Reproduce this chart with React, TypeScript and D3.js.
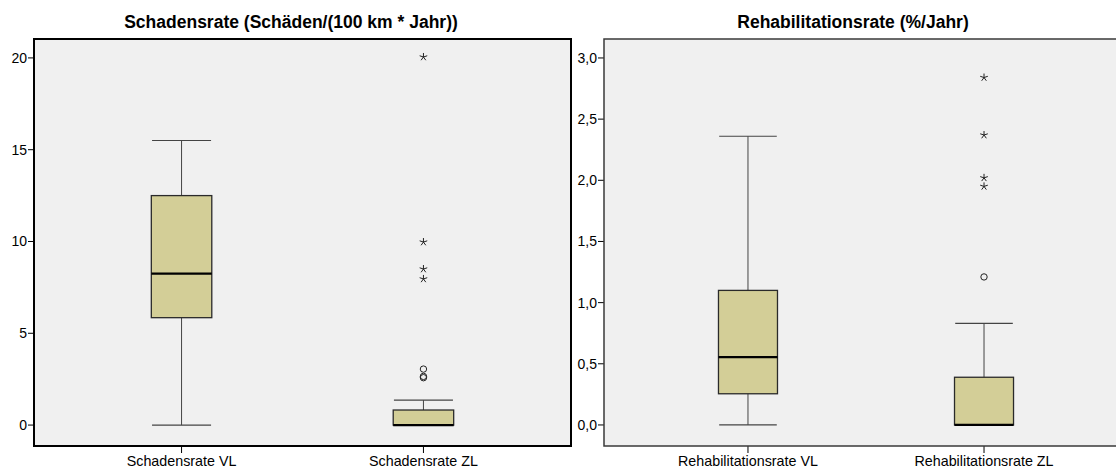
import React from "react";
import * as d3 from "d3";

// box stats: [whisker low, q1, median, q3, whisker high]
const damageCategories = ["Schadensrate VL", "Schadensrate ZL"];
const damageStats = [
  [0, 5.85, 8.25, 12.5, 15.5],
  [0, 0, 0, 0.82, 1.36],
];
const damageCircles = [[], [3.05, 2.65, 2.58]];
const damageStars = [[], [20.05, 9.97, 8.5, 7.96]];
const damageTicks = [0, 5, 10, 15, 20];

const rehabCategories = ["Rehabilitationsrate VL", "Rehabilitationsrate ZL"];
const rehabStats = [
  [0, 0.255, 0.555, 1.1, 2.36],
  [0, 0, 0, 0.39, 0.83],
];
const rehabCircles = [[], [1.21]];
const rehabStars = [[], [2.84, 2.37, 2.02, 1.95]];
const rehabTicks = [0, 0.5, 1, 1.5, 2, 2.5, 3];

const FONT = "Arial, 'Liberation Sans', sans-serif";

const starPath = (r: number) => {
  let p = "";
  for (let i = 0; i < 5; i++) {
    const a = -Math.PI / 2 + (i * 2 * Math.PI) / 5;
    p += `M0,0L${(Math.cos(a) * r).toFixed(2)},${(Math.sin(a) * r).toFixed(2)}`;
  }
  return p;
};

type PanelProps = {
  title: string;
  titleX: number;
  left: number;
  right: number;
  domain: [number, number];
  categories: string[];
  stats: number[][];
  circles: number[][];
  stars: number[][];
  ticks: number[];
  fmt: (v: number) => string;
  frame: string;
  frameWidth: number;
};

const top = 39;
const bottom = 446;

function Panel(p: PanelProps) {
  const y = d3.scaleLinear().domain(p.domain).range([bottom, top]);
  const x = d3.scalePoint().domain(p.categories).range([p.left, p.right]).padding(0.61);
  const step = x.step();
  const bw = step * 0.25;
  const cw = step * 0.122;

  return (
    <g>
      <text x={p.titleX} y={28} textAnchor="middle" fontWeight="bold" fontSize={17.5} fontFamily={FONT}>
        {p.title}
      </text>
      <rect x={p.left} y={top} width={p.right - p.left} height={bottom - top} fill="#f0f0f0" />
      {p.ticks.map((t) => (
        <g key={t}>
          <line x1={p.left - 6} x2={p.left} y1={y(t)} y2={y(t)} stroke="#000" />
          <text x={p.left - 7} y={y(t)} dy="0.35em" textAnchor="end" fontSize={14} fontFamily={FONT}>
            {p.fmt(t)}
          </text>
        </g>
      ))}
      {p.categories.map((c, i) => {
        const cx = x(c) as number;
        const [lo, q1, med, q3, hi] = p.stats[i];
        return (
          <g key={c}>
            <line x1={cx} x2={cx} y1={bottom} y2={bottom + 7} stroke="#000" />
            <text x={cx} y={466} textAnchor="middle" fontSize={14.3} fontFamily={FONT}>
              {c}
            </text>
            <line x1={cx} x2={cx} y1={y(hi)} y2={y(q3)} stroke="#444" />
            <line x1={cx} x2={cx} y1={y(q1)} y2={y(lo)} stroke="#444" />
            <line x1={cx - cw} x2={cx + cw} y1={y(hi)} y2={y(hi)} stroke="#444" strokeWidth={1.2} />
            <line x1={cx - cw} x2={cx + cw} y1={y(lo)} y2={y(lo)} stroke="#444" strokeWidth={1.2} />
            <rect
              x={cx - bw / 2}
              y={y(q3)}
              width={bw}
              height={Math.max(0, y(q1) - y(q3))}
              fill="#d3ce97"
              stroke="#2a2a2a"
              strokeWidth={1.3}
            />
            <line x1={cx - bw / 2} x2={cx + bw / 2} y1={y(med)} y2={y(med)} stroke="#000" strokeWidth={2.2} />
            {p.circles[i].map((v, k) => (
              <circle key={"c" + k} cx={cx} cy={y(v)} r={3.2} fill="none" stroke="#222" strokeWidth={1} />
            ))}
            {p.stars[i].map((v, k) => (
              <path
                key={"s" + k}
                d={starPath(4)}
                transform={`translate(${cx},${y(v)})`}
                stroke="#222"
                strokeWidth={1}
                fill="none"
              />
            ))}
          </g>
        );
      })}
      <rect
        x={p.left}
        y={top}
        width={p.right - p.left}
        height={bottom - top}
        fill="none"
        stroke={p.frame}
        strokeWidth={p.frameWidth}
      />
    </g>
  );
}

const commaFmt = (v: number) => d3.format(".1f")(v).replace(".", ",");

export default function App() {
  return (
    <svg
      width={1116}
      height={468}
      style={{ position: "absolute", left: 0, top: 0, background: "#fff" }}
    >
      <Panel
        title="Schadensrate (Schäden/(100 km * Jahr))"
        titleX={291}
        left={34}
        right={571}
        domain={[-1.14, 21.03]}
        categories={damageCategories}
        stats={damageStats}
        circles={damageCircles}
        stars={damageStars}
        ticks={damageTicks}
        fmt={(v) => String(v)}
        frame="#000"
        frameWidth={2}
      />
      <Panel
        title="Rehabilitationsrate (%/Jahr)"
        titleX={853}
        left={604}
        right={1128}
        domain={[-0.172, 3.155]}
        categories={rehabCategories}
        stats={rehabStats}
        circles={rehabCircles}
        stars={rehabStars}
        ticks={rehabTicks}
        fmt={commaFmt}
        frame="#3a3a3a"
        frameWidth={1.5}
      />
    </svg>
  );
}
